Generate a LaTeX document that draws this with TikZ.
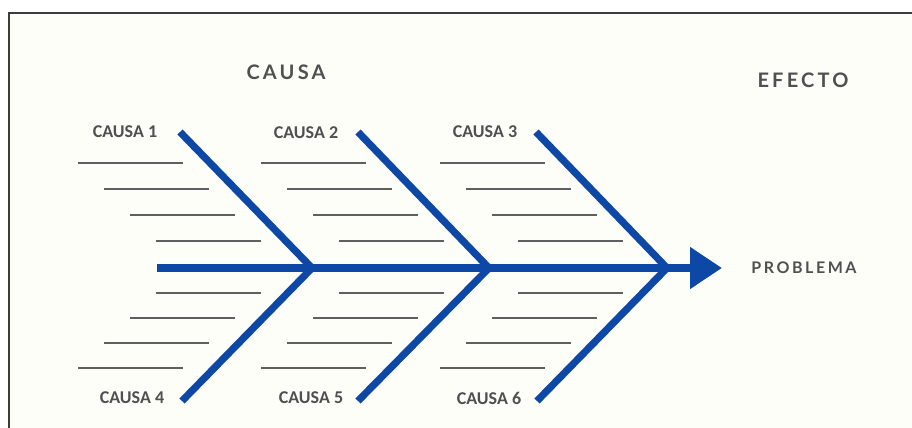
\documentclass[tikz,border=0pt]{standalone}
\usepackage{fontspec}
\setmainfont{Carlito}
\newfontfamily\titlefont[LetterSpace=16]{Lato}
\usetikzlibrary{arrows.meta}
\definecolor{fishblue}{RGB}{14,72,166}
\definecolor{linegray}{RGB}{95,95,95}
\definecolor{textgray}{RGB}{80,80,80}
\definecolor{framegray}{RGB}{60,60,60}
\definecolor{paper}{RGB}{253,254,248}

\begin{document}
\begin{tikzpicture}[x=0.5pt, y=-0.5pt, >=Stealth,
    bone/.style={draw=fishblue, line width=3.6pt, line join=miter},
    spine/.style={draw=fishblue, line width=4pt, -{Triangle[length=16pt, width=20pt]}},
    rib/.style={draw=linegray, line width=1.4pt},
    lbl/.style={text=textgray, font=\bfseries\fontsize{9}{10}\selectfont, inner sep=0pt},
    title/.style={text=textgray, font=\titlefont\bfseries\fontsize{10}{12}\selectfont, inner sep=0pt}]

\useasboundingbox (0,0) rectangle (912,428);

% Fond et cadre
\fill[paper] (8.5,13) rectangle (912,428);
\draw[framegray, line width=1pt] (8.5,428) -- (8.5,13) -- (912,13);

% Titres
\node[title] (causa) at (286,72) {CAUSA};
\node[title] (efecto) at (803,80) {EFECTO};

% Lignes de texte (grises)
\foreach \gx in {78, 261, 440} {
    \foreach \i in {0,...,3} {
        \draw[rib] (\gx+26*\i, 163+26*\i) -- ++(105,0);
        \draw[rib] (\gx+78-26*\i, 293+25*\i) -- ++(105,0);
    }
}

% Arete centrale
\coordinate (tail) at (157,268);
\coordinate (head) at (722,268);
\draw[spine] (tail) -- (head);
\node[title, font=\titlefont\bfseries\fontsize{8}{9}\selectfont] (problema) at (804,268) {PROBLEMA};

% Aretes secondaires
\foreach \k/\tx/\jx/\bx in {1/180/312/182, 2/358/489/358, 3/536/667/537} {
    \coordinate (t\k) at (\tx,132);
    \coordinate (j\k) at (\jx,268);
    \coordinate (b\k) at (\bx,401);
    \draw[bone] (t\k) -- (j\k) -- (b\k);
}

% Causes
\node[lbl] (c1) at (125,132) {CAUSA 1};
\node[lbl] (c2) at (306,133) {CAUSA 2};
\node[lbl] (c3) at (485,132) {CAUSA 3};
\node[lbl] (c4) at (132,398) {CAUSA 4};
\node[lbl] (c5) at (311,398) {CAUSA 5};
\node[lbl] (c6) at (489,398) {CAUSA 6};

\end{tikzpicture}
\end{document}
